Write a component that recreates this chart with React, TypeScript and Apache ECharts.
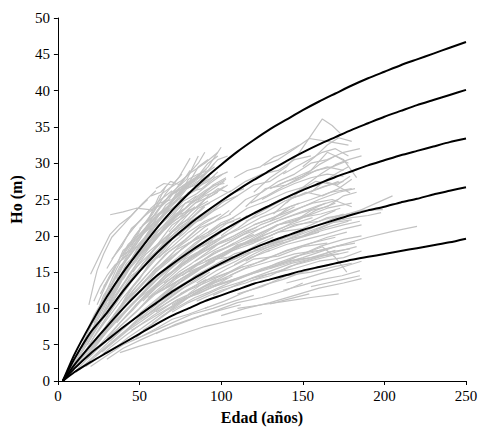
import React, { useEffect, useRef } from "react";
import * as echarts from "echarts";

const xTicks = [0, 50, 100, 150, 200, 250];
const yTicks = [0, 5, 10, 15, 20, 25, 30, 35, 40, 45, 50];

const ages = [3, 10, 20, 30, 40, 50, 60, 70, 80, 90, 100, 110, 120, 130, 140, 150, 160, 170, 180, 190, 200, 210, 220, 230, 240, 250];
const curve1 = [0, 3.6, 7.8, 11.6, 15.0, 18.0, 20.9, 23.5, 25.8, 27.9, 29.8, 31.6, 33.2, 34.7, 36.0, 37.3, 38.5, 39.6, 40.7, 41.7, 42.6, 43.5, 44.3, 45.1, 45.9, 46.7];
const curve2 = [0, 3.0, 6.7, 9.4, 12.4, 15.1, 17.5, 19.6, 21.5, 23.2, 24.8, 26.3, 27.7, 29.0, 30.3, 31.5, 32.6, 33.6, 34.6, 35.5, 36.4, 37.2, 38.0, 38.7, 39.4, 40.1];
const curve3 = [0, 2.2, 4.9, 7.5, 10.0, 12.3, 14.4, 16.1, 17.7, 19.2, 20.6, 21.9, 23.1, 24.2, 25.3, 26.3, 27.2, 28.1, 28.9, 29.7, 30.4, 31.1, 31.7, 32.3, 32.9, 33.4];
const curve4 = [0, 1.7, 3.8, 5.6, 7.4, 9.1, 10.7, 12.3, 13.7, 15.0, 16.2, 17.3, 18.3, 19.2, 20.0, 20.8, 21.5, 22.2, 22.9, 23.5, 24.0, 24.6, 25.1, 25.7, 26.2, 26.7];
const curve5 = [0, 1.2, 2.6, 3.9, 5.2, 6.5, 7.8, 9.0, 10.0, 11.0, 11.8, 12.6, 13.4, 14.0, 14.6, 15.2, 15.7, 16.2, 16.7, 17.1, 17.5, 17.9, 18.3, 18.7, 19.1, 19.6];

const youngStands: number[][][] = [
  [[19, 10.5], [22, 13.4], [24, 15.2], [28, 17.5], [33, 19.8], [40, 21.5], [48, 23.5], [55, 25.0]],
  [[20, 14.7], [26, 17.5], [32, 20.2], [38, 21.6], [45, 22.8], [52, 24.5], [60, 26.2]],
  [[32, 22.9], [40, 23.3], [48, 23.8], [56, 23.6]],
  [[25, 9.5], [30, 12.5], [36, 15.5], [42, 18.0], [50, 20.8], [58, 23.0], [66, 25.8], [74, 28.0], [81, 30.7]],
  [[22, 8.0], [28, 11.0], [35, 14.2], [44, 17.9], [52, 20.5], [61, 23.5], [70, 26.0], [79, 27.8], [86, 31.0]],
  [[30, 10.0], [38, 13.5], [46, 17.0], [55, 20.4], [63, 22.6], [72, 25.5], [82, 27.3], [92, 29.5], [100, 32.2]],
  [[15, 5.5], [22, 9.0], [30, 12.0], [40, 16.0], [50, 19.0], [60, 21.5], [68, 23.8]],
  [[12, 3.5], [20, 7.5], [28, 10.5], [36, 13.0], [45, 16.0], [55, 19.0], [65, 21.5], [75, 24.0], [85, 25.5]],
  [[18, 5.0], [26, 8.5], [34, 11.5], [42, 14.0], [52, 17.5], [62, 20.0], [72, 22.5], [82, 24.5], [92, 26.0], [102, 27.5]],
  [[25, 7.0], [33, 10.0], [42, 13.2], [50, 15.5], [60, 18.5], [70, 21.5], [80, 23.0], [90, 25.0], [98, 26.0]],
  [[35, 13.0], [42, 16.2], [50, 18.0], [58, 21.0], [66, 22.2], [75, 25.0], [84, 26.5], [93, 28.2]],
  [[40, 17.5], [47, 20.0], [54, 22.0], [62, 24.5], [70, 25.0], [78, 27.0], [88, 28.5]],
  [[10, 2.5], [18, 5.5], [26, 8.0], [35, 11.0], [45, 14.0], [55, 16.5], [65, 19.0], [75, 21.0], [85, 22.5], [95, 24.0], [104, 25.0]],
  [[14, 3.0], [22, 6.0], [30, 8.5], [40, 11.5], [50, 14.2], [60, 16.8], [70, 18.5], [80, 20.5], [90, 22.0], [100, 23.0]],
  [[20, 4.5], [28, 7.0], [38, 10.0], [48, 13.0], [58, 15.5], [68, 17.8], [78, 19.5], [88, 21.5], [98, 22.8]],
  [[45, 18.5], [52, 21.5], [60, 23.0], [68, 25.5], [76, 26.5], [84, 27.5], [92, 29.0]],
  [[50, 21.0], [58, 22.5], [65, 24.8], [73, 26.2], [80, 26.8], [88, 27.8], [96, 30.0]],
  [[28, 6.5], [36, 9.5], [46, 12.5], [56, 15.0], [66, 17.5], [76, 19.0], [86, 21.0], [96, 22.0], [105, 23.5]],
  [[8, 1.5], [15, 3.5], [24, 6.0], [32, 8.2], [42, 11.0], [52, 13.5], [62, 15.8], [72, 18.0], [82, 19.2], [92, 21.0]],
  [[12, 2.0], [20, 4.2], [30, 6.8], [40, 9.2], [50, 11.5], [60, 13.8], [70, 15.8], [80, 17.5], [90, 18.8], [100, 20.5]],
  [[16, 3.0], [25, 5.5], [35, 8.0], [45, 10.5], [55, 12.8], [65, 15.0], [75, 16.5], [85, 18.2], [95, 19.5]],
  [[30, 15.5], [36, 17.8], [44, 20.5], [52, 22.5], [60, 24.0], [66, 26.8]],
  [[60, 26.5], [65, 27.2], [70, 27.0], [76, 28.5]],
  [[55, 22.0], [62, 25.5], [68, 26.5], [75, 27.5], [82, 28.8], [90, 30.0], [98, 31.5]],
  [[70, 22.0], [78, 24.5], [86, 25.0], [95, 27.0], [103, 28.0]],
  [[35, 10.5], [43, 13.0], [52, 16.2], [61, 18.0], [70, 20.5], [80, 22.0], [90, 24.0]],
  [[22, 5.0], [30, 7.8], [40, 10.8], [50, 13.0], [60, 15.5], [70, 17.0], [80, 19.0], [90, 20.0]],
  [[10, 1.8], [18, 4.0], [26, 6.0], [36, 8.5], [46, 10.8], [56, 12.5], [66, 14.5], [76, 16.0], [86, 17.5], [96, 18.5]],
  [[18, 3.0], [28, 5.2], [38, 7.5], [48, 9.5], [58, 11.8], [68, 13.5], [78, 15.2], [88, 16.5], [98, 17.8], [108, 19.0]],
  [[25, 4.5], [35, 6.8], [45, 9.0], [55, 11.0], [65, 13.0], [75, 14.8], [85, 16.0], [95, 17.5]],
  [[40, 14.0], [48, 17.0], [56, 18.5], [65, 21.0], [74, 22.5], [84, 24.5], [94, 25.5], [104, 27.0]],
  [[65, 23.0], [72, 24.0], [80, 26.0], [88, 26.5], [96, 28.0], [104, 28.8]],
  [[46, 15.0], [54, 17.5], [62, 19.0], [72, 21.0], [82, 23.5], [92, 24.8]],
  [[32, 11.5], [38, 14.0], [45, 16.5], [52, 18.0], [60, 20.5], [68, 22.0], [76, 23.5]],
  [[28, 13.0], [34, 15.0], [40, 18.0], [46, 19.0], [53, 20.5], [60, 22.0]],
  [[38, 12.0], [45, 14.5], [54, 16.0], [63, 18.5], [72, 20.0], [82, 21.5], [92, 23.0], [100, 24.0]],
  [[15, 4.5], [22, 7.0], [30, 10.0], [38, 12.5], [46, 15.2], [54, 17.0], [62, 18.8], [70, 20.0]],
  [[85, 28.0], [92, 30.0], [98, 31.0]],
  [[5, 1.0], [12, 3.0], [20, 5.8], [28, 8.8], [36, 11.8], [44, 14.8], [52, 17.2], [60, 19.5], [68, 21.8], [76, 23.2]],
  [[8, 1.2], [16, 3.8], [24, 6.8], [32, 9.5], [40, 12.2], [48, 14.5], [56, 16.8], [64, 18.5], [72, 20.5], [80, 21.8], [88, 23.0]],
  [[6, 0.8], [14, 2.5], [22, 4.8], [30, 7.2], [38, 9.5], [46, 11.8], [54, 13.8], [62, 15.5], [70, 17.2], [78, 18.5], [86, 20.0]],
  [[9, 1.0], [17, 2.8], [25, 4.8], [33, 6.8], [41, 8.8], [49, 10.8], [57, 12.5], [65, 14.0], [73, 15.5], [81, 17.0], [89, 18.0], [97, 19.2]],
  [[11, 1.2], [19, 2.8], [27, 4.5], [35, 6.2], [43, 7.8], [51, 9.5], [59, 11.0], [67, 12.5], [75, 14.0], [83, 15.0], [91, 16.2], [99, 17.0]],
  [[13, 1.5], [21, 3.0], [29, 4.5], [37, 6.0], [45, 7.5], [53, 8.8], [61, 10.2], [69, 11.5], [77, 12.8], [85, 13.8], [93, 15.0]],
  [[17, 2.0], [25, 3.2], [33, 4.8], [41, 6.2], [49, 7.5], [57, 8.8], [65, 10.0], [73, 11.2], [81, 12.0], [89, 13.0], [97, 14.0]],
  [[20, 6.5], [27, 9.5], [34, 12.8], [41, 15.5], [48, 17.8], [55, 19.8], [62, 21.5], [69, 23.2], [76, 25.0], [83, 26.2]],
  [[24, 10.5], [29, 13.0], [35, 15.8], [41, 17.2], [47, 19.5], [54, 21.0], [61, 22.8], [68, 24.2], [75, 25.8]],
  [[26, 12.0], [31, 14.2], [37, 16.5], [43, 18.8], [50, 20.2], [57, 22.0], [64, 23.2], [71, 24.5], [78, 26.5], [85, 27.0]],
  [[33, 16.8], [39, 18.5], [45, 21.0], [51, 22.2], [57, 23.8], [63, 25.0], [70, 26.2]],
  [[42, 19.8], [49, 21.8], [56, 23.5], [63, 24.2], [70, 25.8], [77, 27.0], [84, 28.0], [91, 29.2]],
  [[47, 16.5], [55, 18.5], [63, 20.5], [71, 22.5], [79, 24.0], [87, 25.5], [95, 26.8], [103, 27.8]],
  [[53, 19.0], [61, 21.2], [69, 22.8], [77, 24.8], [85, 25.8], [93, 27.2], [101, 28.5]],
  [[30, 9.0], [37, 11.5], [44, 13.8], [51, 15.8], [58, 17.8], [65, 19.5], [72, 21.0], [79, 22.2], [86, 23.8], [93, 24.5]],
  [[36, 8.0], [44, 10.2], [52, 12.2], [60, 14.2], [68, 16.0], [76, 17.5], [84, 19.0], [92, 20.2], [100, 21.5], [108, 22.0]],
  [[40, 8.5], [48, 10.5], [56, 12.0], [64, 13.8], [72, 15.5], [80, 16.8], [88, 18.0], [96, 19.0], [104, 20.2]],
  [[42, 7.0], [50, 8.8], [58, 10.5], [66, 12.0], [74, 13.5], [82, 14.8], [90, 15.8], [98, 17.0], [106, 18.0]],
  [[32, 5.5], [40, 7.2], [48, 8.8], [56, 10.2], [64, 11.8], [72, 13.2], [80, 14.5], [88, 15.5], [96, 16.5]],
  [[48, 6.0], [56, 7.5], [64, 9.0], [72, 10.2], [80, 11.5], [88, 12.5], [96, 13.5], [104, 14.2]],
  [[58, 8.0], [66, 9.2], [74, 10.8], [82, 11.8], [90, 13.0], [98, 14.0], [106, 15.0], [114, 15.8]],
  [[23, 3.5], [31, 5.0], [39, 6.5], [47, 8.0], [55, 9.5], [63, 11.0], [71, 12.2], [79, 13.5]],
  [[27, 4.0], [35, 5.5], [43, 7.0], [51, 8.2], [59, 9.5], [67, 10.8], [75, 12.0], [83, 13.0], [91, 14.0]],
  [[62, 17.0], [70, 19.0], [78, 20.5], [86, 22.2], [94, 23.5], [102, 24.8], [110, 25.5]],
  [[66, 19.5], [74, 21.5], [82, 22.5], [90, 24.2], [98, 25.2], [106, 26.2]],
  [[74, 20.0], [82, 21.8], [90, 23.0], [98, 24.5], [106, 25.8], [114, 26.5]],
  [[58, 15.0], [66, 16.5], [74, 18.5], [82, 19.8], [90, 21.2], [98, 22.2], [106, 23.0]],
  [[56, 13.0], [64, 14.8], [72, 16.5], [80, 18.0], [88, 19.5], [96, 20.5], [104, 21.8], [112, 22.5]],
  [[52, 11.0], [60, 12.8], [68, 14.2], [76, 15.8], [84, 17.0], [92, 18.2], [100, 19.2], [108, 20.0], [116, 21.0]],
  [[64, 12.5], [72, 14.0], [80, 15.2], [88, 16.5], [96, 17.8], [104, 18.5], [112, 19.5], [120, 20.2]],
  [[28, 9.0], [34, 12.0], [40, 14.5], [46, 17.2], [52, 19.2], [58, 21.5], [64, 22.8], [70, 24.8], [76, 26.0], [82, 27.5], [88, 28.2]],
  [[31, 11.0], [37, 13.5], [43, 15.8], [49, 18.5], [55, 19.8], [61, 22.0], [67, 23.5], [73, 24.8], [79, 26.5], [85, 27.2], [91, 28.8]],
  [[36, 14.0], [42, 16.8], [48, 18.8], [54, 20.8], [60, 22.2], [66, 24.2], [72, 25.2], [78, 26.8], [84, 27.8], [90, 28.5], [96, 29.5]],
  [[44, 16.0], [50, 18.5], [56, 20.2], [62, 22.0], [68, 23.5], [74, 24.5], [80, 25.8], [86, 26.8], [92, 27.5], [98, 28.8]],
  [[48, 19.5], [54, 20.8], [60, 22.8], [66, 23.8], [72, 24.8], [78, 25.5], [84, 26.2], [90, 27.5], [96, 28.2]],
  [[54, 18.0], [60, 19.8], [66, 21.5], [72, 23.0], [78, 23.8], [84, 25.2], [90, 26.2], [96, 27.0], [102, 27.2]],
  [[60, 20.0], [66, 21.0], [72, 22.8], [78, 23.2], [84, 24.5], [90, 25.5], [96, 26.0], [102, 26.8]],
  [[68, 20.5], [74, 22.0], [80, 23.5], [86, 24.0], [92, 25.5], [98, 26.5], [104, 26.0]],
  [[24, 7.5], [30, 10.5], [36, 12.5], [42, 15.0], [48, 16.5], [54, 18.5], [60, 20.0], [66, 21.0], [72, 22.2], [78, 23.0], [84, 24.0]],
  [[26, 6.0], [32, 8.0], [38, 10.2], [44, 12.5], [50, 14.0], [56, 16.2], [62, 17.5], [68, 19.2], [74, 20.5], [80, 21.2], [86, 22.5], [92, 23.5]],
  [[34, 9.0], [40, 10.8], [46, 13.0], [52, 14.8], [58, 16.5], [64, 17.8], [70, 19.5], [76, 20.5], [82, 21.8], [88, 22.2], [94, 23.2], [100, 24.5]],
  [[16, 5.0], [21, 7.2], [26, 9.5], [31, 11.5], [36, 13.2], [41, 15.0], [46, 16.2], [51, 18.0], [56, 19.0], [61, 20.5]],
  [[18, 6.5], [23, 8.8], [28, 11.8], [33, 13.5], [38, 15.8], [43, 17.0], [48, 18.5], [53, 19.5], [58, 21.0]],
  [[22, 11.0], [26, 13.0], [30, 14.5], [35, 16.0], [40, 16.8], [45, 18.0], [50, 19.5], [55, 21.5], [60, 22.5]],
  [[38, 17.0], [44, 18.0], [50, 19.8], [56, 21.0], [62, 23.0], [68, 24.0], [74, 26.5], [80, 27.2], [86, 29.5], [92, 30.5]],
  [[74, 25.5], [80, 27.8], [86, 28.5], [92, 29.0], [98, 30.5], [104, 31.0]],
  [[62, 23.8], [68, 25.0], [74, 27.0], [80, 28.5], [86, 30.0], [90, 31.5]],
  [[57, 25.5], [63, 26.0], [69, 27.5], [75, 27.0], [81, 29.0]],
  [[20, 3.8], [28, 6.2], [36, 8.8], [44, 11.0], [52, 12.8], [60, 15.0], [68, 16.5], [76, 18.2], [84, 19.5], [92, 20.5], [100, 21.8], [108, 22.5]],
  [[30, 5.8], [38, 8.0], [46, 9.8], [54, 11.8], [62, 13.5], [70, 15.0], [78, 16.8], [86, 17.8], [94, 19.0], [102, 20.0], [110, 21.0]],
  [[44, 9.5], [52, 11.5], [60, 13.2], [68, 15.2], [76, 16.8], [84, 18.5], [92, 19.5], [100, 20.8], [108, 21.5], [116, 22.8]],
  [[50, 10.0], [58, 12.0], [66, 13.5], [74, 15.0], [82, 16.2], [90, 17.5], [98, 18.8], [106, 19.5], [114, 20.5], [122, 21.2]],
  [[62, 11.0], [70, 12.8], [78, 14.0], [86, 15.2], [94, 16.8], [102, 17.5], [110, 18.8], [118, 19.2], [126, 20.0]],
  [[68, 11.8], [76, 13.0], [84, 14.5], [92, 15.5], [100, 16.5], [108, 17.5], [116, 18.0], [124, 19.0], [132, 19.8]],
  [[54, 9.0], [62, 10.5], [70, 11.8], [78, 13.0], [86, 14.2], [94, 15.5], [102, 16.2], [110, 17.0], [118, 17.8]],
  [[35, 4.5], [43, 6.0], [51, 7.2], [59, 8.5], [67, 9.8], [75, 10.8], [83, 12.0], [91, 12.8], [99, 13.5], [107, 14.5]],
  [[52, 7.0], [60, 8.2], [68, 9.5], [76, 10.5], [84, 11.5], [92, 12.2], [100, 13.0], [108, 13.8], [116, 14.5], [124, 15.2]],
  [[70, 9.5], [80, 10.8], [90, 11.8], [100, 12.8], [110, 13.5], [120, 14.2], [130, 14.8], [140, 15.5]],
  [[76, 14.5], [86, 16.0], [96, 17.0], [106, 18.2], [116, 19.2], [126, 20.0], [136, 21.0], [146, 21.8], [156, 22.5]],
  [[84, 16.5], [94, 17.8], [104, 19.0], [114, 20.2], [124, 21.0], [134, 22.0], [144, 22.8], [154, 23.5], [164, 24.5]],
];

const middleStands: number[][][] = [
  [[50, 8.5], [65, 10.5], [80, 12.5], [95, 14.0], [110, 15.5], [125, 16.5], [140, 18.0], [155, 19.0], [170, 19.8]],
  [[55, 10.0], [70, 12.5], [85, 14.5], [100, 16.0], [115, 17.5], [130, 18.5], [145, 19.5], [160, 20.5]],
  [[60, 12.0], [75, 14.0], [90, 16.0], [105, 17.8], [120, 19.0], [135, 20.5], [150, 21.0], [165, 22.5], [178, 23.0]],
  [[65, 13.5], [80, 15.5], [95, 17.5], [110, 19.0], [125, 20.5], [140, 22.0], [155, 23.0]],
  [[70, 10.5], [85, 12.5], [100, 14.0], [115, 15.5], [130, 16.5], [145, 17.5], [160, 18.0], [175, 18.8]],
  [[75, 12.0], [90, 13.8], [105, 15.0], [120, 16.8], [135, 17.2], [150, 18.5], [165, 19.0]],
  [[80, 15.0], [95, 16.5], [110, 18.5], [125, 19.5], [140, 21.0], [155, 22.0], [170, 23.5]],
  [[45, 7.0], [60, 9.0], [75, 11.0], [90, 12.5], [105, 13.8], [120, 15.0], [135, 16.0], [150, 17.0]],
  [[85, 11.0], [100, 12.5], [115, 13.5], [130, 14.8], [145, 15.5], [160, 16.5], [175, 17.0], [186, 17.9]],
  [[90, 16.5], [105, 18.0], [120, 19.5], [135, 21.5], [150, 22.5], [165, 23.8], [180, 24.5]],
  [[95, 13.0], [110, 14.0], [125, 15.5], [140, 16.5], [155, 17.0], [170, 18.0]],
  [[100, 17.0], [115, 19.0], [130, 20.0], [145, 21.5], [160, 22.0], [175, 23.0]],
  [[55, 11.5], [68, 13.0], [82, 15.0], [96, 16.8], [110, 17.2], [124, 18.8], [138, 19.2]],
  [[70, 15.0], [82, 17.0], [95, 18.5], [108, 20.0], [120, 21.5], [132, 22.5], [145, 24.0]],
  [[110, 12.0], [125, 13.0], [140, 14.5], [155, 15.0], [170, 15.8], [180, 16.2]],
  [[120, 18.0], [135, 19.2], [150, 20.0], [165, 21.2], [178, 22.0]],
  [[150, 17.5], [162, 18.5], [170, 17.0], [177, 15.0]],
  [[80, 12.0], [92, 14.0], [104, 15.5], [118, 17.0], [130, 18.0]],
  [[60, 9.5], [72, 11.0], [86, 12.0], [100, 13.5], [115, 14.5], [130, 15.5], [145, 16.5], [160, 17.2], [172, 17.5]],
  [[130, 15.5], [145, 17.0], [160, 18.5], [175, 19.5], [186, 20.0]],
  [[150, 20.0], [165, 21.5], [180, 23.0], [195, 24.5], [205, 25.5]],
  [[150, 17.0], [170, 18.5], [190, 19.8], [205, 20.6], [220, 21.3]],
  [[140, 19.5], [155, 21.0], [170, 22.5], [185, 23.5], [199, 23.6]],
  [[90, 10.0], [102, 11.0], [114, 12.2], [126, 13.2], [138, 14.0], [150, 15.0], [162, 15.8], [174, 16.5]],
  [[95, 11.8], [107, 13.0], [119, 14.2], [131, 15.2], [143, 16.2], [155, 16.8], [167, 17.8], [179, 18.2]],
  [[105, 14.5], [117, 15.8], [129, 17.0], [141, 18.0], [153, 18.8], [165, 19.8], [177, 20.5]],
  [[108, 16.0], [120, 17.5], [132, 18.8], [144, 19.8], [156, 20.8], [168, 21.8], [180, 22.2]],
  [[112, 19.5], [124, 21.0], [136, 22.2], [148, 23.2], [160, 24.2], [172, 25.0]],
  [[115, 22.0], [127, 23.2], [139, 24.8], [151, 25.8], [163, 26.8], [175, 27.5]],
  [[118, 13.8], [130, 14.5], [142, 15.8], [154, 16.5], [166, 17.2], [178, 17.8]],
  [[125, 20.0], [137, 21.0], [149, 22.5], [161, 23.0], [173, 23.8]],
  [[128, 17.8], [140, 18.8], [152, 19.5], [164, 20.2], [176, 21.0], [186, 21.5]],
  [[135, 15.0], [147, 16.2], [159, 17.0], [171, 17.8], [183, 18.5]],
  [[138, 12.5], [150, 13.2], [162, 14.0], [174, 14.5], [185, 15.2]],
  [[85, 13.5], [97, 15.2], [109, 16.5], [121, 18.0], [133, 19.2], [145, 20.2], [157, 21.2]],
  [[88, 18.5], [100, 19.8], [112, 21.0], [124, 22.5], [136, 23.5], [148, 24.5]],
  [[92, 20.5], [104, 22.0], [116, 23.8], [128, 24.8], [140, 26.0], [152, 26.8]],
  [[100, 18.5], [112, 20.0], [124, 21.5], [136, 22.5], [148, 23.8], [160, 25.0], [172, 26.0], [182, 26.5]],
  [[115, 16.5], [127, 18.0], [139, 19.0], [151, 20.0], [163, 20.8], [175, 21.5], [185, 22.0]],
  [[122, 15.0], [134, 16.2], [146, 17.2], [158, 17.8], [170, 18.5], [182, 19.0]],
  [[140, 13.5], [152, 14.2], [164, 15.0], [176, 15.8], [186, 16.5]],
  [[160, 21.0], [170, 22.0], [180, 22.5], [190, 22.8], [198, 23.2]],
  [[155, 13.0], [165, 13.5], [175, 14.0], [185, 14.5]],
];

const oldStands: number[][][] = [
  [[105, 23.0], [115, 25.0], [125, 26.0], [135, 27.5], [145, 28.5], [155, 30.0], [165, 30.5], [175, 31.5], [185, 32.0]],
  [[120, 26.0], [130, 28.0], [140, 29.5], [148, 31.5], [155, 33.8], [162, 36.1], [168, 35.2], [173, 34.1]],
  [[126, 29.7], [135, 30.5], [145, 32.0], [154, 33.4], [165, 33.0], [178, 32.5]],
  [[110, 21.0], [122, 23.0], [134, 24.5], [146, 26.0], [158, 27.5], [170, 27.0], [179, 25.9]],
  [[115, 24.0], [127, 26.5], [140, 27.0], [152, 28.5], [165, 29.5], [175, 29.0]],
  [[100, 20.0], [112, 22.0], [124, 23.5], [136, 25.0], [148, 25.5], [160, 26.5], [172, 27.5]],
  [[130, 22.0], [142, 24.0], [155, 25.0], [167, 26.0], [180, 26.5]],
  [[105, 26.0], [115, 27.5], [125, 28.5], [135, 29.0], [145, 30.5], [155, 31.0]],
  [[135, 27.0], [145, 28.0], [155, 29.0], [165, 31.5], [175, 30.5], [183, 28.0]],
  [[140, 24.5], [150, 26.5], [160, 27.0], [170, 28.5], [178, 29.5]],
  [[120, 21.5], [132, 22.5], [144, 23.5], [156, 24.5], [168, 25.0], [180, 24.0]],
  [[110, 18.5], [122, 20.0], [134, 21.5], [146, 22.0], [158, 23.5], [170, 24.5]],
  [[150, 29.5], [158, 31.0], [165, 32.5], [172, 33.5], [180, 33.0]],
  [[100, 24.0], [110, 25.5], [120, 27.0], [130, 27.5], [140, 29.0]],
  [[145, 22.0], [155, 23.5], [165, 24.0], [175, 25.5], [183, 26.0]],
  [[125, 25.0], [135, 26.2], [145, 27.2], [155, 28.0], [165, 28.5], [175, 28.2]],
  [[138, 28.5], [146, 29.5], [154, 30.5], [162, 31.5], [170, 32.0], [178, 31.0]],
  [[143, 25.5], [152, 27.0], [161, 28.5], [170, 29.8], [178, 30.5], [186, 31.0]],
  [[132, 23.0], [142, 25.0], [152, 26.0], [162, 25.5], [172, 26.5], [180, 27.8]],
  [[155, 26.0], [163, 27.5], [171, 27.0], [179, 28.2]],
  [[118, 24.5], [128, 25.5], [138, 26.8], [148, 27.8], [158, 29.0], [168, 29.5], [176, 30.2]],
  [[130, 26.5], [140, 27.5], [150, 28.2], [160, 29.8], [170, 31.0], [178, 30.0]],
  [[108, 28.0], [116, 29.0], [124, 29.5], [132, 30.8], [140, 31.5], [148, 32.5]],
];

const lowStands: number[][][] = [
  [[38, 3.9], [50, 4.8], [62, 5.6], [75, 6.4], [90, 7.5], [105, 8.3], [125, 9.3]],
  [[30, 3.0], [40, 4.5], [52, 5.8], [64, 7.0], [76, 8.0], [88, 9.0], [100, 9.8], [112, 10.5]],
  [[20, 2.0], [30, 3.5], [40, 5.0], [50, 6.0], [60, 7.2], [70, 8.5], [80, 9.2], [92, 10.2]],
  [[100, 9.0], [115, 10.0], [130, 10.8], [145, 11.8], [160, 12.8], [175, 13.5], [186, 14.1]],
  [[130, 10.6], [140, 11.2], [154, 12.0]],
  [[110, 10.0], [125, 10.5], [140, 11.0], [155, 11.5], [172, 12.0]],
  [[45, 5.5], [58, 6.8], [70, 8.0], [82, 9.2], [95, 10.0], [108, 11.0], [120, 11.8]],
  [[60, 6.5], [72, 7.8], [85, 8.8], [98, 9.8], [110, 10.8], [125, 11.5], [140, 12.5], [150, 13.5]],
];

const FONT = "Times New Roman, Liberation Serif, serif";

export default function App() {
  const ref = useRef<HTMLDivElement>(null);
  useEffect(() => {
    if (!ref.current) return;
    const chart = echarts.init(ref.current, null, { renderer: "svg" });
    const greySeries = [...youngStands, ...middleStands, ...oldStands, ...lowStands].map((line) => ({
      type: "line",
      data: line,
      symbol: "none",
      silent: true,
      lineStyle: { color: "#c2c2c2", width: 1.2 },
      z: 2,
    }));
    const curves = [curve1, curve2, curve3, curve4, curve5];
    const blackSeries = curves.map((c) => ({
      type: "line",
      data: ages.map((a, i) => [a, c[i]]),
      symbol: "none",
      smooth: 0.2,
      silent: true,
      lineStyle: { color: "#000", width: 2 },
      z: 5,
    }));
    chart.setOption({
      animation: false,
      backgroundColor: "#fff",
      textStyle: { fontFamily: FONT },
      grid: { left: 57.6, right: 16, top: 18, bottom: 45, containLabel: false },
      xAxis: {
        type: "value",
        min: xTicks[0],
        max: xTicks[xTicks.length - 1],
        interval: 50,
        name: "Edad (años)",
        nameLocation: "middle",
        nameGap: 28,
        nameTextStyle: { fontFamily: FONT, fontWeight: "bold", fontSize: 16, color: "#000" },
        axisLine: { lineStyle: { color: "#000", width: 1 } },
        axisTick: { show: true, length: 4, lineStyle: { color: "#000" } },
        axisLabel: { fontFamily: FONT, fontSize: 15, color: "#000", margin: 7 },
        splitLine: { show: false },
      },
      yAxis: {
        type: "value",
        min: yTicks[0],
        max: yTicks[yTicks.length - 1],
        interval: 5,
        name: "Ho (m)",
        nameLocation: "middle",
        nameGap: 32,
        nameTextStyle: { fontFamily: FONT, fontWeight: "bold", fontSize: 16, color: "#000" },
        axisLine: { show: true, lineStyle: { color: "#000", width: 1 } },
        axisTick: { show: true, length: 4, lineStyle: { color: "#000" } },
        axisLabel: { fontFamily: FONT, fontSize: 15, color: "#000", margin: 8 },
        splitLine: { show: false },
      },
      series: [...greySeries, ...blackSeries],
    });
    return () => chart.dispose();
  }, []);
  return (
    <div
      ref={ref}
      style={{ position: "fixed", left: 0, top: 0, width: 482, height: 430 }}
    />
  );
}
